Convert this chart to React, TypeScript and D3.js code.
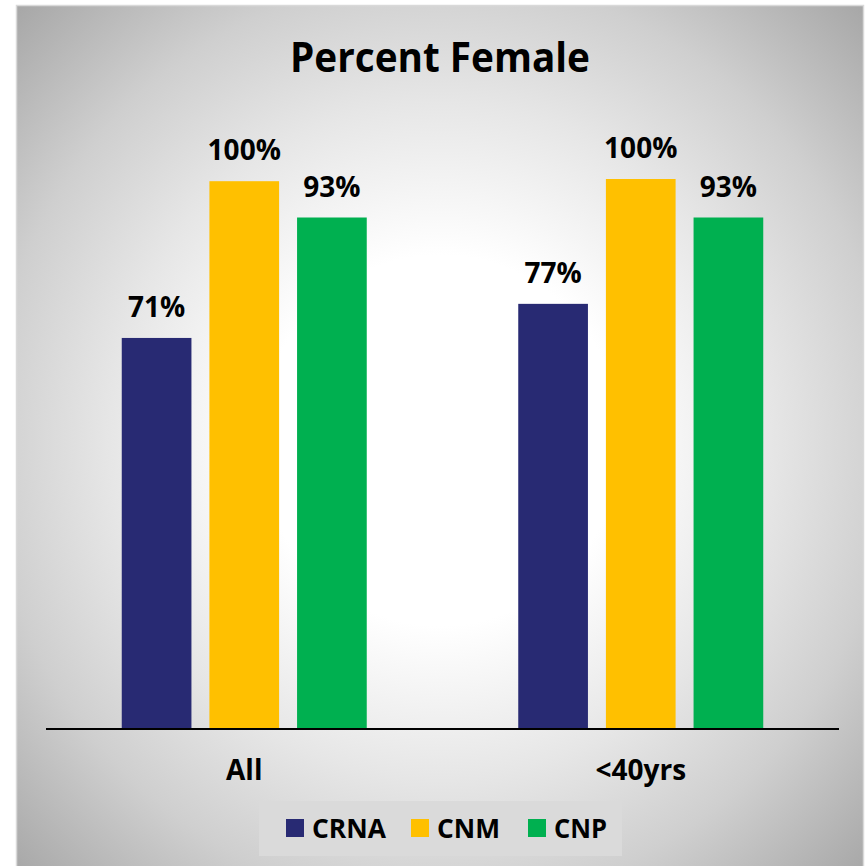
import React from "react";
import * as d3 from "d3";

const categories = ["All", "<40yrs"];
const seriesNames = ["CRNA", "CNM", "CNP"];
const seriesColors = ["#282A73", "#FFC000", "#00B050"];
const valuesAll = [0.711, 0.996, 0.93];
const valuesUnder40 = [0.773, 1.0, 0.93];
const labelsAll = ["71%", "100%", "93%"];
const labelsUnder40 = ["77%", "100%", "93%"];
const title = "Percent Female";

const values = [valuesAll, valuesUnder40];
const labels = [labelsAll, labelsUnder40];

const W = 866;
const H = 866;
const FONT = "'Open Sans', 'Noto Sans', sans-serif";

export default function App() {
  const x0 = d3.scaleBand().domain(categories).range([46, 839]).paddingInner(0).paddingOuter(0);
  const x1 = d3.scaleBand().domain(seriesNames).range([0, 245]).paddingInner(0.205).paddingOuter(0);
  const y = d3.scaleLinear().domain([0, 1]).range([729, 179]);
  const groupW = 245;

  const legendX = [286, 411, 528];
  const legendTextW = [74, 63, 53];

  return (
    <div style={{ position: "fixed", left: 0, top: 0 }}>
      <svg width={W} height={H} style={{ display: "block" }}>
        <defs>
          <radialGradient id="bg" cx="50%" cy="50%" r="71%">
            <stop offset="0" stopColor="#ffffff" />
            <stop offset="0.3" stopColor="#ffffff" />
            <stop offset="0.55" stopColor="#e6e6e6" />
            <stop offset="0.75" stopColor="#cfcfcf" />
            <stop offset="1" stopColor="#a6a6a6" />
          </radialGradient>
        </defs>
        <rect x={0} y={0} width={W} height={H} fill="#ffffff" />
        <rect x={16.5} y={5.5} width={847} height={870} fill="url(#bg)" stroke="#d9d9d9" strokeWidth={1.5} />
        <text
          x={440}
          y={72}
          textAnchor="middle"
          fontFamily={FONT}
          fontWeight={700}
          fontSize={42}
          textLength={300}
          lengthAdjust="spacingAndGlyphs"
          fill="#000"
        >
          {title}
        </text>
        {categories.map((cat, ci) => {
          const gx = (x0(cat) as number) + x0.bandwidth() / 2 - groupW / 2;
          return (
            <g key={cat}>
              {seriesNames.map((s, si) => {
                const v = values[ci][si];
                const bx = gx + (x1(s) as number);
                const bw = x1.bandwidth();
                return (
                  <g key={s}>
                    <rect x={bx} y={y(v)} width={bw} height={y(0) - y(v)} fill={seriesColors[si]} />
                    <text
                      x={bx + bw / 2}
                      y={y(v) - 21}
                      textAnchor="middle"
                      fontFamily={FONT}
                      fontWeight={700}
                      fontSize={28}
                      fill="#000"
                    >
                      {labels[ci][si]}
                    </text>
                  </g>
                );
              })}
              <text
                x={(x0(cat) as number) + x0.bandwidth() / 2}
                y={780}
                textAnchor="middle"
                fontFamily={FONT}
                fontWeight={700}
                fontSize={28}
                fill="#000"
              >
                {cat}
              </text>
            </g>
          );
        })}
        <line x1={46} x2={839} y1={729} y2={729} stroke="#000" strokeWidth={2} />
        <rect x={259} y={801} width={363} height={55} fill="#dadada" />
        {seriesNames.map((s, i) => (
          <g key={s}>
            <rect x={legendX[i]} y={819} width={18} height={18} fill={seriesColors[i]} />
            <text
              x={legendX[i] + 26}
              y={838}
              fontFamily={FONT}
              fontWeight={700}
              fontSize={27}
              textLength={legendTextW[i]}
              lengthAdjust="spacingAndGlyphs"
              fill="#000"
            >
              {s}
            </text>
          </g>
        ))}
      </svg>
    </div>
  );
}
